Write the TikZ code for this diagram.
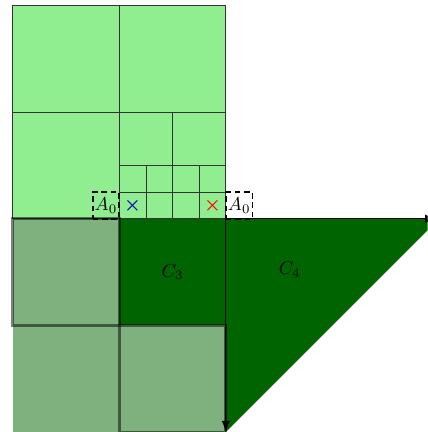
\documentclass[tikz,border=0pt]{standalone}
\usetikzlibrary{arrows.meta}
\definecolor{lightgreen}{RGB}{144,238,144}
\definecolor{darkgreen}{RGB}{0,100,0}
\begin{document}
\begin{tikzpicture}[scale=0.5,
  cellline/.style={black!80},
  halfcell/.style={fill=darkgreen,fill opacity=0.5,draw=black,draw opacity=0.5,ultra thick},
  abox/.style={draw,line width=1pt,dash pattern=on 3pt off 2pt,minimum size=0.5cm,inner sep=0pt}]
  \useasboundingbox (-8.475,-8) rectangle (7.575,8.21);
  \clip (-8.475,-8) rectangle (7.575,8.21);
  % upper region
  \fill[lightgreen] (-8,0) rectangle (0,8);
  \draw[cellline] (-8,0) rectangle (0,8);
  \draw[cellline] (-4,0) -- (-4,8) (-8,4) -- (0,4);
  \draw[cellline] (-2,0) -- (-2,4) (-4,2) -- (0,2);
  \draw[cellline] (-3,0) -- (-3,2) (-1,0) -- (-1,2) (-4,1) -- (0,1);
  % lower region
  \fill[darkgreen] (-4,-4) rectangle (0,0);
  \fill[darkgreen] (0,0) -- (8,0) -- (0,-8) -- cycle;
  \fill[darkgreen,opacity=0.5] (-8,-8) rectangle (-4,-4);
  \draw[halfcell] (-8,-4) rectangle (-4,0);
  \draw[halfcell] (-4,-8) rectangle (0,-4);
  \draw[-{Latex[length=6pt,width=4.5pt]}] (0,0) -- (7.9,0);
  \draw[-{Latex[length=6pt,width=4.5pt]}] (0,0) -- (0,-8);
  % labels
  \node (c3) at (-2,-2) {$C_3$};
  \node (c4) at (2.4,-1.9) {$C_4$};
  \node[abox] (a0l) at (-4.5,0.5) {$A_0$};
  \node[abox] (a0r) at (0.5,0.5) {$A_0$};
  \node[text=blue!70!black,font=\boldmath] (bx) at (-3.5,0.5) {$\times$};
  \node[text=red,font=\boldmath] (rx) at (-0.5,0.5) {$\times$};
\end{tikzpicture}
\end{document}
